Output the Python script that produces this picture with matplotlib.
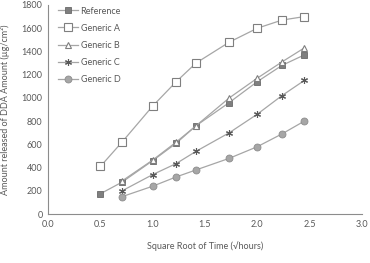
import numpy as np
import matplotlib.pyplot as plt

plt.rcParams['font.family'] = ['Lato', 'DejaVu Sans']

# sqrt(hours)
x_ref = [0.5, 0.707, 1.0, 1.225, 1.414, 1.732, 2.0, 2.236, 2.449]
x_gen = [0.707, 1.0, 1.225, 1.414, 1.732, 2.0, 2.236, 2.449]

reference = [175, 275, 460, 610, 760, 960, 1140, 1280, 1370]
generic_a = [410, 620, 930, 1140, 1300, 1480, 1600, 1670, 1700]
generic_b = [285, 465, 620, 760, 1000, 1170, 1310, 1430]
generic_c = [200, 340, 435, 540, 700, 860, 1020, 1150]
generic_d = [150, 240, 320, 380, 480, 580, 690, 800]

fig = plt.figure(figsize=(3.7, 2.63), dpi=100)
ax = fig.add_axes([0.13, 0.186, 0.848, 0.795])

lc = '#a6a6a6'
ax.plot(x_ref, reference, color=lc, lw=0.9, marker='s', ms=5, mfc='#7f7f7f', mec='#6a6a6a', mew=0.6, label='Reference')
ax.plot(x_ref, generic_a, color=lc, lw=0.9, marker='s', ms=5.5, mfc='white', mec='#7f7f7f', mew=0.8, label='Generic A')
ax.plot(x_gen, generic_b, color=lc, lw=0.9, marker='^', ms=5, mfc='white', mec='#7f7f7f', mew=0.8, label='Generic B')
ax.plot(x_gen, generic_c, color=lc, lw=0.9, marker=(6, 2, 0), ms=5, mec='#595959', mew=0.8, label='Generic C')
ax.plot(x_gen, generic_d, color=lc, lw=0.9, marker='o', ms=5, mfc='#a6a6a6', mec='#8c8c8c', mew=0.6, label='Generic D')

ax.set_xlim(0, 3.0)
ax.set_ylim(0, 1800)
ax.set_xticks(np.arange(0, 3.01, 0.5))
ax.set_xticklabels(['%.1f' % v for v in np.arange(0, 3.01, 0.5)])
ax.set_yticks(range(0, 1801, 200))
ax.tick_params(length=0, labelsize=6.5, colors='#595959', pad=4)
for s in ['top', 'right']:
    ax.spines[s].set_visible(False)
for s in ['left', 'bottom']:
    ax.spines[s].set_color('#8c8c8c')
    ax.spines[s].set_linewidth(0.8)

ax.set_xlabel('Square Root of Time (\u221ahours)', fontsize=6.5, color='#595959', labelpad=9)
ax.set_ylabel('Amount released of DDA Amount (\u00b5g/cm\u00b2)', fontsize=6.5, color='#595959', labelpad=8)

ax.legend(loc='upper left', frameon=False, fontsize=6.5, labelcolor='#595959',
          handlelength=2.2, handletextpad=0.3, labelspacing=0.9, borderaxespad=0.0,
          bbox_to_anchor=(0.02, 1.01))

fig.savefig('out.png', dpi=100)
